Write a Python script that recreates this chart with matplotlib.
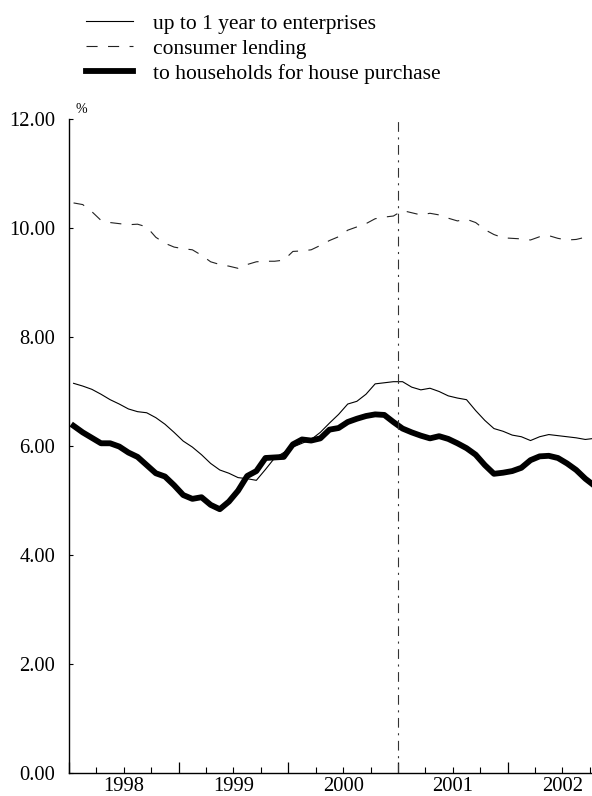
import matplotlib
matplotlib.use("Agg")
import matplotlib.pyplot as plt
import numpy as np

plt.rcParams['font.family'] = ['Liberation Serif', 'DejaVu Serif']
plt.rcParams['lines.scale_dashes'] = False

# Monthly observations, January 1998 - October 2002
start_year = 1998
enterprises = [7.15, 7.10, 7.04, 6.95, 6.85, 6.77, 6.68, 6.63, 6.61, 6.52, 6.40, 6.25,
               6.09, 5.98, 5.84, 5.68, 5.56, 5.50, 5.42, 5.40, 5.37, 5.57, 5.78, 5.88,
               5.98, 6.05, 6.12, 6.25, 6.42, 6.58, 6.77, 6.82, 6.95, 7.14, 7.16, 7.18,
               7.18, 7.08, 7.03, 7.06, 7.00, 6.92, 6.88, 6.85, 6.65, 6.47, 6.32, 6.27,
               6.20, 6.17, 6.10, 6.17, 6.21, 6.19, 6.17, 6.15, 6.12, 6.14]
consumer = [10.46, 10.43, 10.30, 10.14, 10.10, 10.08, 10.06, 10.07, 10.02, 9.83, 9.72, 9.65,
            9.62, 9.60, 9.50, 9.38, 9.33, 9.30, 9.26, 9.33, 9.38, 9.39, 9.39, 9.41,
            9.57, 9.58, 9.60, 9.68, 9.77, 9.84, 9.96, 10.02, 10.08, 10.17, 10.20, 10.22,
            10.32, 10.28, 10.24, 10.27, 10.24, 10.18, 10.13, 10.16, 10.10, 9.97, 9.88, 9.82,
            9.81, 9.80, 9.78, 9.84, 9.86, 9.81, 9.78, 9.79, 9.83, 9.80]
house = [6.37, 6.25, 6.15, 6.05, 6.05, 5.99, 5.88, 5.80, 5.65, 5.50, 5.44, 5.28,
         5.10, 5.03, 5.06, 4.92, 4.84, 4.98, 5.18, 5.45, 5.54, 5.78, 5.79, 5.80,
         6.03, 6.12, 6.10, 6.14, 6.30, 6.33, 6.44, 6.50, 6.55, 6.58, 6.57, 6.44,
         6.32, 6.25, 6.19, 6.14, 6.18, 6.13, 6.05, 5.96, 5.84, 5.65, 5.49, 5.51,
         5.54, 5.60, 5.74, 5.81, 5.82, 5.78, 5.68, 5.56, 5.40, 5.27]
years = [1998, 1999, 2000, 2001, 2002]
y_ticks = [0, 2, 4, 6, 8, 10, 12]
labels = ["up to 1 year to enterprises", "consumer lending",
          "to households for house purchase"]
marker_year = 2001

x = np.arange(len(house)) + 0.5  # mid-month positions (months since Jan 1998)

fig = plt.figure(figsize=(5.92, 7.96), dpi=100)
ax = fig.add_axes([69/592, 1 - 773/796, 523/592, (773 - 119)/796])

l1, = ax.plot(x, enterprises, color='black', lw=0.8, label=labels[0])
l2, = ax.plot(x, consumer, color='#222222', lw=0.8, dashes=(8, 7.5), label=labels[1])
l3, = ax.plot(x, house, color='black', lw=4.2, solid_joinstyle='round', label=labels[2])

vx = (marker_year - start_year) * 12
ax.axvline(vx, color='#333333', lw=0.8, dashes=(7, 4, 1.5, 4))

ax.set_xlim(0, 57.23)
ax.set_ylim(0, 12)

for s in ['top', 'right']:
    ax.spines[s].set_visible(False)
ax.spines['left'].set_linewidth(1.0)
ax.spines['bottom'].set_linewidth(1.0)

ax.set_yticks(y_ticks)
ax.set_yticklabels([f"{v:.2f}" for v in y_ticks])
ax.tick_params(axis='y', direction='in', length=3, width=0.8, labelsize=14.8, pad=10)

major = [(y - start_year) * 12 for y in years]
minor = [m for m in range(0, 58, 3) if m % 12 != 0]
ax.set_xticks(major)
ax.set_xticklabels([])
ax.set_xticks(minor, minor=True)
ax.tick_params(axis='x', which='major', direction='in', length=8, width=0.9)
ax.tick_params(axis='x', which='minor', direction='in', length=4.5, width=0.8)

for yv in years:
    ax.text((yv - start_year) * 12 + 6, -0.07, str(yv), transform=ax.transData,
            ha='center', va='top', fontsize=14.8)

ax.text(0.012, 1.005, "%", transform=ax.transAxes, ha='left', va='bottom', fontsize=10)

fig.legend(handles=[l1, l2, l3], loc='upper left', bbox_to_anchor=(0.1385, 0.988),
           frameon=False, fontsize=15.5, handlelength=2.15, handletextpad=0.95,
           labelspacing=0.22, borderpad=0.2, borderaxespad=0)

fig.savefig("out.png", dpi=100)
